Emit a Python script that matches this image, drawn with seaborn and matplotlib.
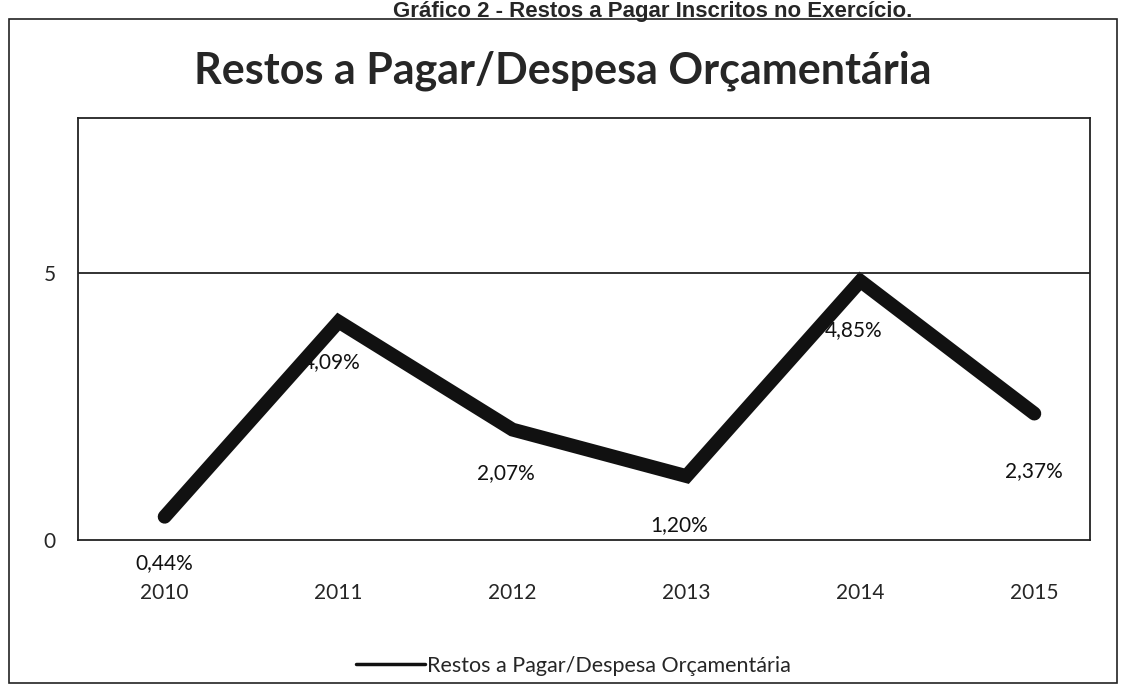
import pandas as pd
import numpy as np
import matplotlib
matplotlib.use('Agg')
import matplotlib.pyplot as plt
import seaborn as sns

# Data
anos = ['2010', '2011', '2012', '2013', '2014', '2015']
valores = [0.44, 4.09, 2.07, 1.20, 4.85, 2.37]
rotulos = ['0,44%', '4,09%', '2,07%', '1,20%', '4,85%', '2,37%']
serie = 'Restos a Pagar/Despesa Orçamentária'

sns.set_theme(style='white')
plt.rcParams['font.family'] = ['Lato', 'DejaVu Sans']

df = pd.DataFrame({'ano': np.arange(len(anos)), 'valor': valores})

fig = plt.figure(figsize=(11.26, 6.98), dpi=100)
ax = fig.add_axes([0.069, 0.226, 0.899, 0.605])

sns.lineplot(data=df, x='ano', y='valor', ax=ax, color='#111111', linewidth=10,
             solid_capstyle='round', solid_joinstyle='miter', label=serie)

ax.set_xlim(-0.5, 5.32)
ax.set_ylim(0, 7.9)
ax.set_yticks([0, 5])
ax.set_yticklabels(['0', '5'], fontsize=15)
ax.set_xticks(df['ano'])
ax.set_xticklabels(anos, fontsize=15)
ax.tick_params(axis='x', pad=31, length=0)
ax.tick_params(axis='y', pad=16, length=0)
ax.axhline(5, color='#222222', linewidth=1.3)
for s in ax.spines.values():
    s.set_color('#222222')
    s.set_linewidth(1.3)
ax.set_xlabel('')
ax.set_ylabel('')

offsets = [(0, -26), (-5, -22), (-5, -24), (-5, -28), (-5, -28), (0, -34)]
for i, (v, r) in enumerate(zip(valores, rotulos)):
    ax.annotate(r, (i, v), xytext=offsets[i], textcoords='offset points',
                ha='center', va='top', fontsize=15, color='#111111')

leg = ax.legend(loc='upper center', bbox_to_anchor=(0.49, -0.228), frameon=False,
                fontsize=15.5, handlelength=3.2, handletextpad=0.1)
for line in leg.get_lines():
    line.set_linewidth(2.5)

fig.text(0.5, 0.898, serie, ha='center', va='center', fontsize=31, fontweight='bold')
fig.text(0.58, 0.999, 'Gráfico 2 - Restos a Pagar Inscritos no Exercício.', ha='center',
         va='top', fontsize=16, fontweight='bold', family=['Liberation Sans'])

# outer frame
fig.patches.append(plt.Rectangle((0.008, 0.022), 0.984, 0.951, transform=fig.transFigure,
                                 fill=False, edgecolor='#222222', linewidth=1.2))

plt.savefig('out.png', dpi=100)
